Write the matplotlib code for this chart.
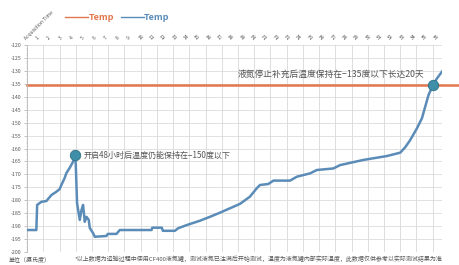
"""Liquid nitrogen tank temperature log, recreated with matplotlib."""

import matplotlib
matplotlib.use("Agg")
import matplotlib.pyplot as plt
from matplotlib.ticker import MultipleLocator

plt.rcParams["font.family"] = ["Noto Sans CJK SC", "DejaVu Sans"]

ORANGE = "#e2784f"
BLUE = "#5b8cb8"
MARKER = "#3f8fa9"
TEXT = "#555555"

# x positions are in category units (0 = first tick), values in degrees C
TEMP_X = [0.0, 0.81, 0.88, 1.25, 1.69, 2.13, 2.57, 2.86, 3.01, 3.30, 3.45, 3.74,
          4.04, 4.25, 4.39, 4.63, 4.78, 4.92, 5.07, 5.22, 5.42, 5.51, 5.80, 5.95,
          6.98, 7.09, 7.86, 8.15, 10.94, 11.01, 11.85, 11.94, 13.00, 13.29, 14.03,
          15.20, 16.08, 16.96, 17.84, 18.72, 19.60, 20.19, 20.48, 21.22, 21.66,
          23.13, 23.72, 24.89, 25.48, 26.94, 27.53, 29.59, 31.65, 32.82, 33.26,
          33.70, 34.29, 34.73, 35.02, 35.31, 35.70, 36.05, 36.49]
TEMP_Y = [-191.5, -191.5, -181.8, -180.6, -180.3, -178.0, -176.7, -175.7, -174.1,
          -171.4, -169.5, -167.5, -165.1, -162.5, -181.1, -187.6, -183.8, -181.8,
          -188.3, -186.4, -187.6, -190.7, -192.7, -194.1, -193.8, -193.0, -193.0,
          -191.5, -191.5, -190.6, -190.6, -191.8, -191.8, -190.8, -189.6, -187.9,
          -186.4, -184.8, -183.1, -181.4, -178.6, -175.4, -174.1, -173.7, -172.4,
          -172.4, -170.9, -169.6, -168.3, -167.7, -166.4, -164.4, -162.9, -161.6,
          -159.5, -156.7, -152.2, -148.3, -143.8, -139.3, -135.5, -132.9, -130.3]
THRESHOLD = -135.5

X_LABELS = ["Acquisition Time"] + [str(d) for d in range(1, 37)]
Y_TICKS = [-120, -125, -130, -135, -140, -145, -150, -155, -160, -165, -170,
           -175, -180, -185, -190, -195, -200]

PEAK_IDX = 13       # 48h after opening
CROSS_IDX = 60      # crosses the -135 line

NOTE_PEAK = "开启48小时后温度仍能保持在−150度以下"
NOTE_CROSS = "液氮停止补充后温度保持在−135度以下长达20天"
UNIT = "单位（摄氏度）"
FOOTNOTE = ("*以上数据为运输过程中使用CF400液氮罐，测试液氮已注满后开始测试，"
            "温度为液氮罐内部实际温度，此数据仅供参考以实际测试结果为准")


def main() -> None:
    fig = plt.figure(figsize=(4.6, 2.65), dpi=100)
    ax = fig.add_axes([0.059, 0.049, 0.902, 0.781])

    ax.plot(TEMP_X, TEMP_Y, color=BLUE, linewidth=1.8, solid_joinstyle="round",
            zorder=3)
    ax.axhline(THRESHOLD, xmin=0, xmax=1.045, color=ORANGE, linewidth=1.8,
               clip_on=False, zorder=2)

    for i in (PEAK_IDX, CROSS_IDX):
        ax.plot(TEMP_X[i], TEMP_Y[i], "o", markersize=7.5, color=MARKER,
                markeredgecolor="#2f6f85", markeredgewidth=0.6, zorder=4)

    ax.text(TEMP_X[PEAK_IDX] + 0.75, TEMP_Y[PEAK_IDX], NOTE_PEAK, fontsize=5.8,
            color=TEXT, va="center", ha="left")
    ax.text(TEMP_X[CROSS_IDX] - 0.75, TEMP_Y[CROSS_IDX] + 4.2, NOTE_CROSS,
            fontsize=6.3, color=TEXT, va="center", ha="right")

    ax.set_xlim(0, 36.5)
    ax.set_ylim(-200, -120)

    ax.xaxis.tick_top()
    ax.set_xticks(range(len(X_LABELS)))
    ax.set_xticklabels(X_LABELS, rotation=45, ha="left", rotation_mode="anchor",
                       fontsize=3.6, color=TEXT)
    ax.tick_params(axis="x", length=0, pad=3)

    ax.set_yticks(Y_TICKS)
    ax.set_yticklabels([str(v) for v in Y_TICKS], fontsize=3.8, color=TEXT)
    ax.yaxis.set_minor_locator(MultipleLocator(1))
    ax.tick_params(axis="y", which="major", length=2, width=0.5, color="#aaaaaa",
                   pad=2)
    ax.tick_params(axis="y", which="minor", length=1, width=0.4, color="#bbbbbb")

    # light background grid, vertical lines are not aligned with the labels
    for v in Y_TICKS:
        ax.axhline(v, color="#dcdcdc", linewidth=0.6, zorder=0)
    k = 0.0
    while k < 36.5:
        ax.axvline(k, color="#d8d8d8", linewidth=0.6, zorder=0)
        k += 1.427

    for side in ("top", "right", "bottom"):
        ax.spines[side].set_visible(False)
    ax.spines["left"].set_color("#bbbbbb")
    ax.spines["left"].set_linewidth(0.6)

    # legend drawn by hand to sit left of centre above the axis labels
    fig.add_artist(plt.Line2D([0.142, 0.192], [0.935, 0.935], color=ORANGE,
                              linewidth=1.0, transform=fig.transFigure))
    fig.text(0.193, 0.935, "Temp", color=ORANGE, fontsize=6.5, va="center",
             fontweight="bold")
    fig.add_artist(plt.Line2D([0.262, 0.312], [0.935, 0.935], color=BLUE,
                              linewidth=1.0, transform=fig.transFigure))
    fig.text(0.313, 0.935, "Temp", color=BLUE, fontsize=6.5, va="center",
             fontweight="bold")

    fig.text(0.018, 0.022, UNIT, fontsize=4.3, color=TEXT, va="center")
    fig.text(0.163, 0.022, FOOTNOTE, fontsize=4.3, color=TEXT, va="center")

    fig.savefig("out.png", dpi=100)
    plt.close(fig)


if __name__ == "__main__":
    main()
